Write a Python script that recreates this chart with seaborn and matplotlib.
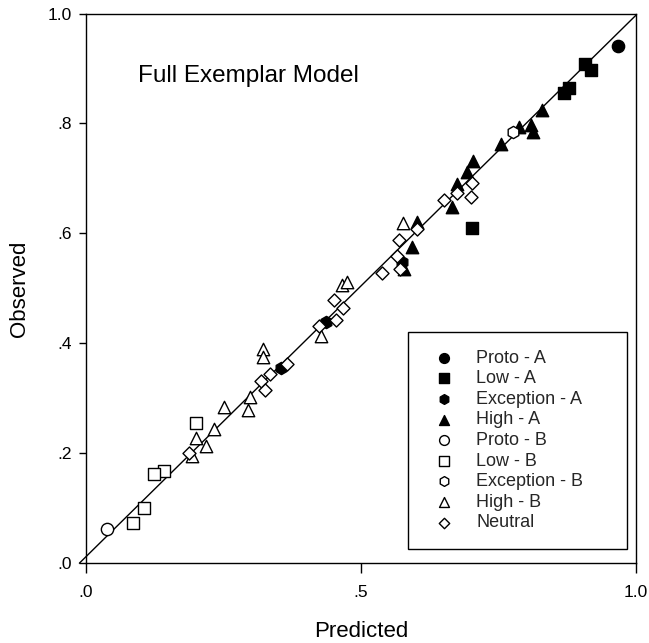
import numpy as np
import pandas as pd
import matplotlib
matplotlib.use("Agg")
import matplotlib.pyplot as plt
import seaborn as sns

# ---------------- data ----------------
proto_a_x = [0.967]
proto_a_y = [0.941]

low_a_x = [0.908, 0.919, 0.869, 0.878, 0.702]
low_a_y = [0.908, 0.897, 0.856, 0.865, 0.610]

exception_a_x = [0.355, 0.437, 0.574]
exception_a_y = [0.355, 0.439, 0.548]

high_a_x = [0.829, 0.787, 0.809, 0.813, 0.755, 0.704, 0.692, 0.674, 0.665, 0.602, 0.592, 0.579]
high_a_y = [0.824, 0.793, 0.797, 0.785, 0.762, 0.731, 0.712, 0.689, 0.648, 0.621, 0.575, 0.536]

proto_b_x = [0.038]
proto_b_y = [0.062]

low_b_x = [0.200, 0.141, 0.124, 0.105, 0.085]
low_b_y = [0.256, 0.168, 0.162, 0.100, 0.074]

exception_b_x = [0.777]
exception_b_y = [0.785]

high_b_x = [0.576, 0.465, 0.475, 0.428, 0.321, 0.322, 0.299, 0.295, 0.251, 0.232, 0.200, 0.219, 0.193]
high_b_y = [0.619, 0.507, 0.511, 0.413, 0.389, 0.375, 0.302, 0.278, 0.284, 0.245, 0.227, 0.213, 0.196]

neutral_x = [0.701, 0.674, 0.700, 0.651, 0.602, 0.569, 0.565, 0.570, 0.539, 0.451, 0.468,
             0.455, 0.424, 0.366, 0.335, 0.319, 0.325, 0.187]
neutral_y = [0.691, 0.673, 0.667, 0.661, 0.608, 0.588, 0.559, 0.535, 0.528, 0.479, 0.465,
             0.442, 0.431, 0.362, 0.345, 0.331, 0.316, 0.200]

category_labels = ["Proto - A", "Low - A", "Exception - A", "High - A",
                   "Proto - B", "Low - B", "Exception - B", "High - B", "Neutral"]

fit_intercept = 0.012
fit_slope = 0.985
fit_x_range = [-0.012, 1.0]

x_ticks = [0.0, 0.5, 1.0]
x_tick_labels = [".0", ".5", "1.0"]
y_ticks = [0.0, 0.2, 0.4, 0.6, 0.8, 1.0]
y_tick_labels = [".0", ".2", ".4", ".6", ".8", "1.0"]

title_text = "Full Exemplar Model"
x_label = "Predicted"
y_label = "Observed"

# ---------------- figure ----------------
sns.set_theme(style="white")
plt.rcParams["font.family"] = ["Liberation Sans", "DejaVu Sans"]

fig = plt.figure(figsize=(6.49, 6.43), dpi=100)
ax = fig.add_axes([0.1325, 0.124, 0.8475, 0.855])

series = [
    (proto_a_x, proto_a_y, "o", True, 78),
    (low_a_x, low_a_y, "s", True, 68),
    (exception_a_x, exception_a_y, "h", True, 78),
    (high_a_x, high_a_y, "^", True, 80),
    (proto_b_x, proto_b_y, "o", False, 78),
    (low_b_x, low_b_y, "s", False, 68),
    (exception_b_x, exception_b_y, "h", False, 78),
    (high_b_x, high_b_y, "^", False, 80),
    (neutral_x, neutral_y, "D", False, 44),
]

# fitted line
line_df = pd.DataFrame({"x": fit_x_range})
line_df["y"] = fit_intercept + fit_slope * line_df["x"]
sns.lineplot(data=line_df, x="x", y="y", color="black", linewidth=1.0, ax=ax, zorder=1)
ax.lines[-1].set_clip_on(False)

for (xs, ys, mk, filled, size), lab in zip(series, category_labels):
    df = pd.DataFrame({"x": xs, "y": ys})
    sns.scatterplot(data=df, x="x", y="y", marker=mk, s=size,
                    color=("black" if filled else "white"),
                    edgecolor="black", linewidth=1.0, label=lab, ax=ax, zorder=3)

ax.set_xlim(0, 1)
ax.set_ylim(0, 1)
ax.set_xticks(x_ticks)
ax.set_xticklabels(x_tick_labels)
ax.set_yticks(y_ticks)
ax.set_yticklabels(y_tick_labels)
ax.tick_params(axis="x", direction="out", length=7, width=1, pad=9, labelsize=12.5, colors="black")
ax.tick_params(axis="y", direction="out", length=5, width=1, pad=5, labelsize=12.5, colors="black")
ax.tick_params(top=False, right=False, bottom=True, left=True)

for sp in ax.spines.values():
    sp.set_visible(True)
    sp.set_color("black")
    sp.set_linewidth(1.0)

ax.set_xlabel(x_label, fontsize=16, labelpad=15, color="black")
ax.set_ylabel(y_label, fontsize=16, labelpad=13, color="black")

ax.text(0.095, 0.875, title_text, transform=ax.transAxes, fontsize=17.5,
        ha="left", va="baseline", color="black")

leg = ax.legend(loc="upper left", bbox_to_anchor=(0.586, 0.023, 0.397, 0.397),
                mode="expand", borderaxespad=0, fontsize=13, frameon=True,
                fancybox=False, edgecolor="black", framealpha=1,
                labelspacing=0.2, handlelength=2.0, handletextpad=0.8,
                borderpad=0.95, markerscale=0.8)
leg.get_frame().set_linewidth(1.0)

fig.savefig("out.png", dpi=100)
